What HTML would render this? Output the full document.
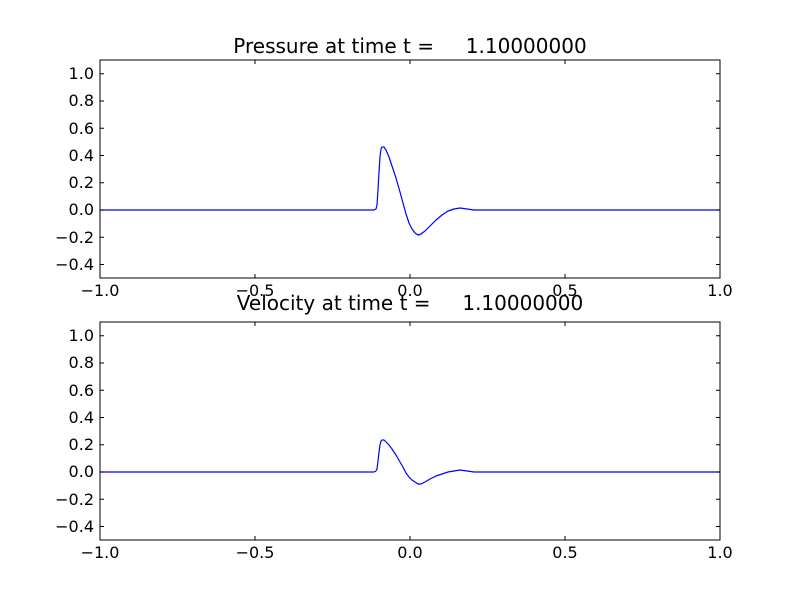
<!DOCTYPE html><html><head><style>body{margin:0;background:#fff}text{white-space:pre}</style></head><body>
<svg width="800" height="600" xmlns="http://www.w3.org/2000/svg" font-family="DejaVu Sans, Liberation Sans, sans-serif">
<rect width="800" height="600" fill="#fff"/>
<g>
<text x="410" y="53" font-size="20" text-anchor="middle" xml:space="preserve">Pressure at time t =     1.10000000</text>
<polyline fill="none" stroke="#0000ff" stroke-width="1.2" stroke-linejoin="round" points="100,210 374,210 376,209 377,205 378,190 379,172 380,157 381,149 382,147 384,147 386,150 389,157 392,166 396,178 400,192 403,203 406,214 409,223 412,229 415,233 418,235 421,234 425,231 430,226 436,220 442,215 448,211 454,209 460,208 467,209 474,210 490,210 720,210"/>
<rect x="100" y="60" width="620" height="218" fill="none" stroke="#000"/>
</g>
<g>
<text x="410" y="310" font-size="20" text-anchor="middle" xml:space="preserve">Velocity at time t =     1.10000000</text>
<polyline fill="none" stroke="#0000ff" stroke-width="1.2" stroke-linejoin="round" points="100,472 374,472 376,471 377,469 378,461 379,452 380,445 381,441 382,440 384,440 386,442 389,445 392,449 396,455 400,462 403,467 406,473 409,477 412,480 415,482 418,484 421,484 425,482 430,479 436,476 442,474 448,472 454,471 460,470 467,471 474,472 490,472 720,472"/>
<rect x="100" y="322" width="620" height="218" fill="none" stroke="#000"/>
</g>
<g font-size="16" stroke="#000">
<path d="M100,278v-4M255,278v-4M410,278v-4M565,278v-4M720,278v-4M100,60v4M255,60v4M410,60v4M565,60v4M720,60v4
M100,264.5h4M100,237.3h4M100,210h4M100,182.8h4M100,155.5h4M100,128.3h4M100,101h4M100,73.8h4
M720,264.5h-4M720,237.3h-4M720,210h-4M720,182.8h-4M720,155.5h-4M720,128.3h-4M720,101h-4M720,73.8h-4
M100,540v-4M255,540v-4M410,540v-4M565,540v-4M720,540v-4M100,322v4M255,322v4M410,322v4M565,322v4M720,322v4
M100,526.5h4M100,499.3h4M100,472h4M100,444.8h4M100,417.5h4M100,390.3h4M100,363h4M100,335.8h4
M720,526.5h-4M720,499.3h-4M720,472h-4M720,444.8h-4M720,417.5h-4M720,390.3h-4M720,363h-4M720,335.8h-4"/>
<g stroke="none" text-anchor="end">
<text x="94" y="270">−0.4</text><text x="94" y="243">−0.2</text><text x="94" y="215">0.0</text><text x="94" y="188">0.2</text><text x="94" y="161">0.4</text><text x="94" y="134">0.6</text><text x="94" y="106">0.8</text><text x="94" y="79">1.0</text>
<text x="94" y="532">−0.4</text><text x="94" y="505">−0.2</text><text x="94" y="477">0.0</text><text x="94" y="450">0.2</text><text x="94" y="423">0.4</text><text x="94" y="396">0.6</text><text x="94" y="368">0.8</text><text x="94" y="341">1.0</text>
</g>
<g stroke="none" text-anchor="middle">
<text x="100" y="296">−1.0</text><text x="255" y="296">−0.5</text><text x="410" y="296">0.0</text><text x="565" y="296">0.5</text><text x="720" y="296">1.0</text>
<text x="100" y="558">−1.0</text><text x="255" y="558">−0.5</text><text x="410" y="558">0.0</text><text x="565" y="558">0.5</text><text x="720" y="558">1.0</text>
</g>
</g>
</svg>
</body></html>
